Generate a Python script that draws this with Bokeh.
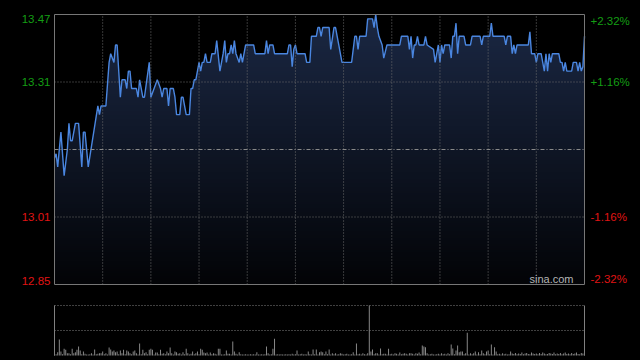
import numpy as np
from bokeh.plotting import figure
from bokeh.models import Range1d, Label, Span
from bokeh.embed import file_html
from bokeh.resources import INLINE

# ---------------- data ----------------
session_minutes = 330
prev_close = 13.16
price_top = 13.47
price_bottom = 12.85

left_labels = ["13.47", "13.31", "13.01", "12.85"]
right_labels = ["+2.32%", "+1.16%", "-1.16%", "-2.32%"]

minutes = [0, 1, 2, 4, 6, 8, 9, 10, 11, 13, 15, 17, 18, 19, 21, 27, 28, 29, 32, 34,
           35, 37, 38, 39, 41, 42, 44, 45, 46, 47, 48, 51, 52, 53, 55, 56, 59, 60, 62, 64,
           66, 67, 68, 70, 71, 72, 74, 75, 76, 78, 79, 80, 82, 84, 85, 86, 87, 88, 89, 90,
           91, 92, 93, 94, 95, 97, 98, 100, 101, 103, 105, 106, 107, 108, 109, 110, 111, 112, 113, 115,
           116, 117, 118, 119, 124, 125, 131, 132, 133, 134, 136, 137, 145, 146, 147, 148, 149, 150, 151, 156,
           157, 159, 160, 163, 164, 165, 166, 167, 171, 172, 174, 175, 176, 177, 179, 185, 187, 188, 189, 190,
           194, 195, 198, 199, 200, 201, 202, 204, 205, 207, 215, 216, 220, 221, 222, 223, 224, 225, 226, 227,
           230, 231, 232, 236, 237, 238, 239, 240, 241, 242, 243, 246, 247, 248, 249, 250, 251, 252, 255, 256,
           259, 260, 265, 266, 267, 271, 272, 273, 280, 281, 282, 284, 285, 286, 287, 288, 295, 296, 297, 299,
           300, 301, 303, 304, 305, 306, 307, 308, 309, 310, 314, 315, 316, 317, 318, 319, 322, 323, 325, 326,
           327, 328, 329, 330]
prices = [13.14, 13.15, 13.12, 13.20, 13.10, 13.16, 13.22, 13.18, 13.18, 13.22, 13.22, 13.12, 13.20, 13.20, 13.12, 13.26, 13.24, 13.26, 13.26, 13.36,
          13.38, 13.36, 13.40, 13.40, 13.28, 13.32, 13.32, 13.30, 13.34, 13.34, 13.30, 13.30, 13.28, 13.32, 13.28, 13.28, 13.36, 13.28, 13.30, 13.32,
          13.30, 13.28, 13.30, 13.30, 13.26, 13.30, 13.30, 13.28, 13.24, 13.24, 13.28, 13.28, 13.24, 13.24, 13.30, 13.30, 13.32, 13.32, 13.34, 13.36,
          13.34, 13.36, 13.36, 13.38, 13.36, 13.36, 13.38, 13.38, 13.41, 13.34, 13.38, 13.41, 13.36, 13.38, 13.38, 13.40, 13.38, 13.41, 13.38, 13.36,
          13.38, 13.36, 13.38, 13.40, 13.40, 13.38, 13.38, 13.41, 13.38, 13.40, 13.40, 13.38, 13.38, 13.40, 13.40, 13.35, 13.39, 13.40, 13.38, 13.38,
          13.36, 13.36, 13.42, 13.42, 13.44, 13.44, 13.42, 13.44, 13.44, 13.39, 13.44, 13.44, 13.42, 13.40, 13.36, 13.36, 13.42, 13.42, 13.39, 13.42,
          13.42, 13.46, 13.46, 13.44, 13.47, 13.44, 13.42, 13.40, 13.37, 13.40, 13.40, 13.42, 13.42, 13.39, 13.42, 13.37, 13.40, 13.40, 13.42, 13.40,
          13.40, 13.42, 13.40, 13.39, 13.36, 13.38, 13.40, 13.36, 13.40, 13.38, 13.40, 13.40, 13.37, 13.42, 13.42, 13.45, 13.38, 13.42, 13.42, 13.40,
          13.40, 13.42, 13.42, 13.40, 13.42, 13.42, 13.45, 13.42, 13.42, 13.40, 13.42, 13.42, 13.38, 13.40, 13.38, 13.40, 13.40, 13.43, 13.38, 13.38,
          13.36, 13.38, 13.38, 13.36, 13.34, 13.38, 13.34, 13.38, 13.36, 13.38, 13.38, 13.36, 13.36, 13.34, 13.36, 13.34, 13.34, 13.36, 13.36, 13.34,
          13.36, 13.34, 13.35, 13.42]

volume = [67, 12, 33, 160, 40, 12, 67, 57, 23, 23,
          12, 67, 23, 33, 57, 90, 50, 12, 40, 17,
          10, 10, 12, 23, 10, 60, 12, 17, 23, 23,
          40, 12, 23, 10, 80, 60, 40, 50, 33, 40,
          12, 50, 23, 57, 12, 50, 40, 23, 12, 40,
          50, 23, 10, 120, 12, 57, 23, 33, 12, 57,
          67, 57, 10, 30, 30, 12, 57, 17, 23, 12,
          40, 23, 80, 23, 10, 40, 33, 17, 23, 10,
          33, 12, 67, 23, 10, 17, 40, 12, 23, 40,
          12, 67, 57, 30, 23, 30, 10, 30, 12, 23,
          17, 10, 67, 67, 10, 10, 12, 50, 17, 17,
          10, 140, 40, 17, 10, 33, 12, 10, 10, 12,
          10, 10, 12, 10, 12, 10, 33, 10, 10, 12,
          10, 12, 90, 23, 10, 12, 67, 167, 10, 12,
          10, 12, 10, 10, 12, 10, 12, 10, 17, 10,
          12, 50, 10, 12, 17, 10, 12, 10, 40, 12,
          10, 60, 12, 60, 10, 33, 40, 33, 12, 40,
          12, 60, 10, 23, 12, 23, 10, 12, 23, 17,
          10, 12, 17, 10, 10, 12, 33, 10, 120, 12,
          17, 10, 23, 12, 10, 23, 500, 40, 60, 12,
          23, 23, 10, 70, 12, 17, 17, 10, 67, 12,
          17, 10, 23, 17, 10, 30, 12, 17, 23, 17,
          10, 23, 23, 17, 10, 23, 17, 30, 12, 100,
          90, 83, 23, 10, 12, 17, 10, 10, 12, 17,
          10, 23, 12, 17, 10, 23, 12, 110, 70, 12,
          50, 100, 33, 40, 40, 12, 23, 227, 10, 23,
          12, 23, 40, 10, 33, 12, 50, 23, 12, 40,
          50, 12, 110, 10, 83, 40, 12, 17, 10, 23,
          12, 17, 10, 12, 40, 20, 15, 25, 12, 20,
          15, 30, 12, 20, 25, 15, 12, 30, 20, 15,
          20, 12, 25, 15, 30, 20, 12, 15, 25, 20,
          15, 30, 12, 20, 15, 25, 12, 20, 30, 15,
          20, 12, 25, 15, 20, 30, 15, 12, 25, 20,
          40]

# ---------------- layout / styles ----------------
W, H = 640, 360
PX_L, PX_R = 54, 584          # price & volume panel left/right (px)
PX_T, PX_B = 14, 284          # price panel top/bottom (px)
VOL_T, VOL_B = 305, 355       # volume panel top/bottom (px)

BG = "#000000"
GRID = "#6e6e6e"
LINE = "#4a86e0"
UP = "#149e14"
DOWN = "#e01414"
FONT = "Liberation Sans"
FS = "11.5px"

ppm = (PX_R - PX_L) / session_minutes                  # px per minute
pps = (PX_B - PX_T) / (price_top - price_bottom)        # px per price unit
vmax = max(volume)
ppv = (VOL_B - VOL_T) / vmax                            # px per volume unit

x_start = -PX_L / ppm
x_end = session_minutes + (W - PX_R) / ppm
y_start = price_bottom - (H - PX_B) / pps
y_end = price_top + PX_T / pps
v_start = -(H - VOL_B) / ppv
v_end = vmax + VOL_T / ppv

p = figure(width=W, height=H, output_backend="svg", toolbar_location=None,
           x_range=Range1d(x_start, x_end), y_range=Range1d(y_start, y_end),
           x_axis_location=None, y_axis_location=None,
           min_border=0, min_border_left=0, min_border_right=0,
           min_border_top=0, min_border_bottom=0,
           background_fill_color=BG, border_fill_color=BG,
           outline_line_color=None)
p.extra_y_ranges = {"vol": Range1d(v_start, v_end)}
p.xgrid.visible = False
p.ygrid.visible = False

# vertical gradient under the price line
n = 128
t = np.linspace(0.0, 1.0, n)[:, None]
top_rgb = np.array([27, 40, 68], dtype=float)[None, :]
bot_rgb = np.array([3, 4, 7], dtype=float)[None, :]
cols = (bot_rgb + (top_rgb - bot_rgb) * t).astype(np.uint8)
img = np.zeros((n, 1), dtype=np.uint32)
view = img.view(dtype=np.uint8).reshape((n, 1, 4))
view[:, 0, 0] = cols[:, 0]
view[:, 0, 1] = cols[:, 1]
view[:, 0, 2] = cols[:, 2]
view[:, 0, 3] = 255
p.image_rgba(image=[img], x=0, y=price_bottom, dw=session_minutes,
             dh=price_top - price_bottom)

# mask above the price line, then the line
p.varea(x=minutes, y1=prices, y2=price_top, fill_color=BG)
p.line(minutes, prices, line_color=LINE, line_width=1.4)

# price-panel grid
half = (price_top - prev_close) / 2.0
grid_minutes = list(range(30, session_minutes, 30))
p.segment(x0=grid_minutes, x1=grid_minutes, y0=price_bottom, y1=price_top,
          line_color=GRID, line_dash="1 2", line_width=1)
quarter_levels = [prev_close + half, prev_close - half]
p.segment(x0=0, x1=session_minutes, y0=quarter_levels, y1=quarter_levels,
          line_color=GRID, line_dash="1 2", line_width=1)
p.segment(x0=0, x1=session_minutes, y0=prev_close, y1=prev_close,
          line_color="#8a8a8a", line_dash="4 2 1 2", line_width=1)

# price-panel frame
p.quad(left=0, right=session_minutes, bottom=price_bottom, top=price_top,
       fill_color=None, line_color="#777777", line_width=1)

# axis labels
label_y = [price_top, prev_close + half, prev_close - half, price_bottom]
baselines = ["top", "middle", "middle", "bottom"]
for txt, rtxt, yv, bl in zip(left_labels, right_labels, label_y, baselines):
    col = UP if yv > prev_close else DOWN
    p.add_layout(Label(x=PX_L - 4, x_units="screen", y=yv, y_units="data", text=txt,
                       text_align="right", text_baseline=bl, text_color=col,
                       text_font=FONT, text_font_size=FS))
    p.add_layout(Label(x=PX_R + 6, x_units="screen", y=yv, y_units="data", text=rtxt,
                       text_align="left", text_baseline=bl, text_color=col,
                       text_font=FONT, text_font_size=FS))

p.add_layout(Label(x=PX_R - 11, x_units="screen", y=price_bottom, y_units="data",
                   text="sina.com", text_align="right", text_baseline="bottom",
                   text_color="#b4b4b4", text_font=FONT, text_font_size="11px"))

# ---------------- volume panel ----------------
p.vbar(x=list(range(len(volume))), top=volume, bottom=0, width=0.6,
       fill_color="#8c8c8c", line_color=None, y_range_name="vol")
vol_levels = [vmax, vmax / 2.0]
p.segment(x0=0, x1=session_minutes, y0=vol_levels, y1=vol_levels,
          line_color="#808080", line_dash="1 2", line_width=1, y_range_name="vol")
p.segment(x0=[0, session_minutes], x1=[0, session_minutes], y0=0, y1=vmax,
          line_color="#808080", line_width=1, y_range_name="vol")

html = file_html(p, INLINE)
html = html.replace("</head>", "<style>html,body{background:#000000;}</style></head>", 1)
open("out.html", "w").write(html)
